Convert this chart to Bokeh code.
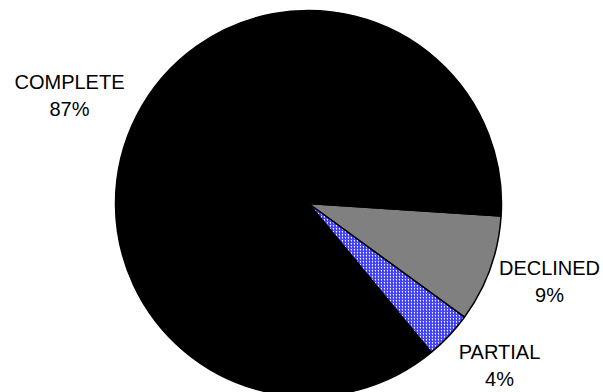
import math
from bokeh.plotting import figure
from bokeh.models import ColumnDataSource, Range1d
from bokeh.core.properties import value
from bokeh.embed import file_html
from bokeh.resources import INLINE

# data
categories = ["DECLINED", "PARTIAL", "COMPLETE"]
percents = [9, 4, 87]
colors = ["#808080", "#ffffff", "#000000"]
hatches = ["blank", "right_diagonal_line", "blank"]

# layout
W, H = 603, 392
cx, cy, r = 308, 392 - 203, 193
start_deg = -3.7
label_pos = {"DECLINED": (549, 392 - 281), "PARTIAL": (499, 392 - 365), "COMPLETE": (69, 392 - 95)}

total = sum(percents)
starts, ends = [], []
a = math.radians(start_deg)
for v in percents:
    starts.append(a)
    a = a - 2 * math.pi * v / total
    ends.append(a)

src = ColumnDataSource(dict(cat=categories, start=starts, end=ends, color=colors, hatch=hatches))

p = figure(width=W, height=H, output_backend="svg", toolbar_location=None,
           x_range=Range1d(0, W), y_range=Range1d(0, H), min_border=0)
p.axis.visible = False
p.grid.visible = False
p.outline_line_color = None
p.background_fill_color = "white"
p.border_fill_color = "white"

p.wedge(x=cx, y=cy, radius=r, start_angle="start", end_angle="end", direction="clock",
        source=src, fill_color="color", line_color="black", line_width=1.5,
        hatch_pattern="hatch", hatch_color="#2a2aff", hatch_scale=3, hatch_weight=1.2)

lx = [label_pos[c][0] for c in categories]
ly = [label_pos[c][1] for c in categories]
txt = [f"{c}\n{v}%" for c, v in zip(categories, percents)]
lsrc = ColumnDataSource(dict(x=lx, y=ly, t=txt))
p.text(x="x", y="y", text="t", source=lsrc, text_align="center", text_baseline="middle",
       text_font=value("Liberation Sans"), text_font_size="20px", text_color="black",
       text_line_height=1.25)

open("out.html", "w").write(file_html(p, INLINE))
